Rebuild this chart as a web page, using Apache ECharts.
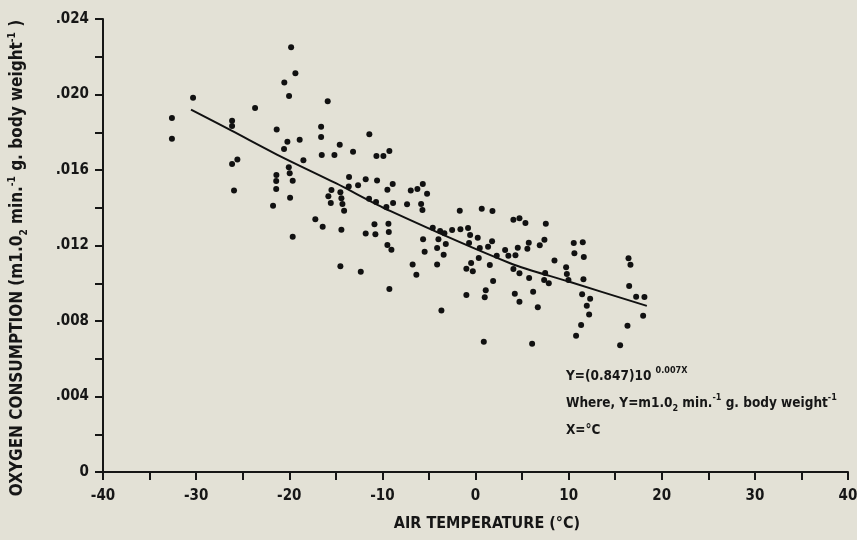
<!DOCTYPE html>
<html>
<head>
<meta charset="utf-8">
<script src="https://cdn.jsdelivr.net/npm/echarts@6/dist/echarts.min.js"></script>
<style>
html,body{margin:0;padding:0;background:#e3e1d6;}
#chart{width:857px;height:540px;}
</style>
</head>
<body>
<div id="chart"></div>
<script>
// Observed points: air temperature (°C)
var tempC = [
-32.6,-32.6,-30.33,-26.14,-26.14,-25.57,-26.14,-25.93,-23.67,-21.56,
-21.35,-21.38,-21.4,-21.4,-21.74,-19.8,-19.34,-20.53,-20.02,-15.87,
-16.58,-16.58,-20.2,-18.88,-20.56,-11.4,-14.58,-13.15,-16.51,-15.15,
-10.64,-9.89,-9.25,-18.48,-20.05,-19.95,-19.63,-19.91,-13.58,-11.79,
-10.57,-8.89,-13.61,-12.61,-15.47,-15.8,-15.54,-14.51,-14.4,-14.29,
-14.11,-9.46,-11.43,-10.68,-9.57,-8.85,-17.2,-16.41,-14.4,-19.63,
-10.85,-11.79,-10.75,-9.35,-9.31,-9.46,-9.03,-14.51,-12.32,-9.25,
-6.95,-6.24,-5.66,-5.2,-7.35,-5.84,-5.7,-1.69,0.67,1.82,
4.07,4.72,-4.59,-3.8,-3.34,-2.51,-1.62,-0.8,-0.58,0.24,
1.78,-5.63,-3.98,-3.19,-0.69,1.35,0.46,-4.12,-5.46,-3.42,
2.28,3.18,3.53,4.29,4.54,0.35,-0.47,-0.98,-0.29,1.54,
4.07,4.72,-6.75,-4.12,-6.35,1.89,1.1,0.99,-0.98,4.22,
4.72,-3.66,0.89,5.36,7.55,5.72,5.57,6.9,7.4,10.55,
11.52,10.62,11.63,8.48,9.73,9.81,9.98,11.59,5.76,7.48,
7.37,7.87,6.19,6.69,11.45,12.31,11.95,12.2,11.34,10.8,
6.08,16.43,16.64,16.5,17.25,18.14,18.0,16.32,15.53
];
// Observed points: oxygen consumption
var o2Consumption = [
0.01875,0.01766,0.01983,0.01861,0.01833,0.01655,0.01632,0.01492,0.01928,0.02414,
0.01814,0.01574,0.01542,0.01499,0.01411,0.0225,0.02112,0.02063,0.01992,0.01964,
0.01829,0.01775,0.0175,0.0176,0.01711,0.01789,0.01734,0.01697,0.0168,0.0168,
0.01674,0.01674,0.01701,0.01651,0.01614,0.01583,0.01543,0.01453,0.01563,0.01551,
0.01545,0.01526,0.01512,0.01519,0.01494,0.01461,0.01425,0.01482,0.0145,0.0142,
0.01384,0.01496,0.01448,0.0143,0.01404,0.01425,0.01339,0.013,0.01284,0.01247,
0.01312,0.01263,0.01259,0.01315,0.01272,0.01203,0.01178,0.0109,0.01061,0.0097,
0.01492,0.01499,0.01526,0.01474,0.01418,0.0142,0.01388,0.01384,0.01395,0.01383,
0.01337,0.01344,0.01294,0.01277,0.01265,0.01282,0.01286,0.01293,0.01256,0.01241,
0.01222,0.01233,0.01233,0.01208,0.01213,0.01194,0.01187,0.01187,0.01167,0.01151,
0.01146,0.01176,0.01146,0.01148,0.01188,0.01134,0.01107,0.01077,0.01063,0.01097,
0.01075,0.01053,0.011,0.011,0.01045,0.01012,0.00963,0.00926,0.00938,0.00945,
0.00902,0.00855,0.0069,0.01319,0.01315,0.01215,0.01183,0.01201,0.01231,0.01213,
0.01217,0.01159,0.01139,0.0112,0.01085,0.01049,0.01017,0.01021,0.01028,0.01054,
0.01017,0.01,0.00955,0.00873,0.00942,0.00918,0.00881,0.00834,0.00779,0.00722,
0.0068,0.01132,0.01098,0.00985,0.00929,0.00927,0.00828,0.00775,0.00671
];
// Fitted curve
var curveTemp = [-30.55,-26.14,-21.0,-15.0,-9.17,3.72,10.0,18.4];
var curveO2   = [0.0192,0.01807,0.01674,0.0153,0.01383,0.01106,0.01009,0.0088];
// Axis ticks
var xMin = -40, xMax = 40, xStep = 10;
var yMin = 0, yMax = 0.024, yStep = 0.004;

var scatterData = tempC.map(function(t,i){return [t,o2Consumption[i]];});
var curveData = curveTemp.map(function(t,i){return [t,curveO2[i]];});

var FONT = "'Liberation Sans Narrow','DejaVu Sans Condensed',sans-serif";
var INK = '#161616';

var chart = echarts.init(document.getElementById('chart'));
chart.setOption({
  backgroundColor: '#e3e1d6',
  animation: false,
  grid: {left: 103, right: 9, top: 19, bottom: 68, containLabel: false, outerBoundsMode: 'none'},
  xAxis: {
    type: 'value', min: xMin, max: xMax, interval: xStep,
    axisLine: {show: true, onZero: false, lineStyle: {color: INK, width: 2}},
    axisTick: {show: true, inside: false, length: 8, lineStyle: {color: INK, width: 2}},
    minorTick: {show: true, splitNumber: 2, length: 8, lineStyle: {color: INK, width: 2}},
    axisLabel: {fontFamily: FONT, fontSize: 15, fontWeight: 'bold', color: INK, margin: 17},
    splitLine: {show: false}
  },
  yAxis: {
    type: 'value', min: yMin, max: yMax, interval: yStep,
    axisLine: {show: true, onZero: false, lineStyle: {color: INK, width: 2}},
    axisTick: {show: true, inside: false, length: 8, lineStyle: {color: INK, width: 2}},
    minorTick: {show: true, splitNumber: 2, length: 8, lineStyle: {color: INK, width: 2}},
    axisLabel: {
      fontFamily: FONT, fontSize: 15, fontWeight: 'bold', color: INK, margin: 14,
      formatter: function(v){ return v === 0 ? '0' : v.toFixed(3).replace(/^0/, ''); }
    },
    splitLine: {show: false}
  },
  graphic: [
    {type: 'text', x: 18, y: 258, rotation: Math.PI / 2, style: {
      text: '{t|OXYGEN CONSUMPTION (m1.0}{sub|2}{t| min.}{sup|-1}{t| g. body weight}{sup|-1}{t| )}',
      align: 'center', verticalAlign: 'middle',
      rich: {
        t: {fontFamily: FONT, fontSize: 17, fontWeight: 'bold', fill: INK, lineHeight: 22},
        sub: {fontFamily: FONT, fontSize: 10, fontWeight: 'bold', fill: INK, verticalAlign: 'bottom', lineHeight: 22},
        sup: {fontFamily: FONT, fontSize: 10, fontWeight: 'bold', fill: INK, verticalAlign: 'top', lineHeight: 22}
      }}},
    {type: 'text', x: 487, y: 524, style: {
      text: 'AIR TEMPERATURE (°C)', align: 'center', verticalAlign: 'middle',
      fontFamily: FONT, fontSize: 16, fontWeight: 'bold', fill: INK}},
    {type: 'text', left: 566, top: 366, style: {
      text: '{t|Y=(0.847)10 }{sup|0.007X}',
      rich: {
        t: {fontFamily: FONT, fontSize: 13.5, fontWeight: 'bold', fill: INK, lineHeight: 20},
        sup: {fontFamily: FONT, fontSize: 9, fontWeight: 'bold', fill: INK, verticalAlign: 'top', lineHeight: 20}
      }}},
    {type: 'text', left: 566, top: 393, style: {
      text: '{t|Where, Y=m1.0}{sub|2}{t| min.}{sup|-1}{t| g. body weight}{sup|-1}',
      rich: {
        t: {fontFamily: FONT, fontSize: 13.5, fontWeight: 'bold', fill: INK, lineHeight: 20},
        sub: {fontFamily: FONT, fontSize: 9, fontWeight: 'bold', fill: INK, verticalAlign: 'bottom', lineHeight: 20},
        sup: {fontFamily: FONT, fontSize: 9, fontWeight: 'bold', fill: INK, verticalAlign: 'top', lineHeight: 20}
      }}},
    {type: 'text', left: 566, top: 423, style: {
      text: 'X=°C', fontFamily: FONT, fontSize: 13.5, fontWeight: 'bold', fill: INK}}
  ],
  series: [
    {
      type: 'scatter', data: scatterData, symbol: 'circle', symbolSize: 6,
      itemStyle: {color: '#111', opacity: 1}, z: 3
    },
    {
      type: 'line', data: curveData, smooth: 0.3, showSymbol: false,
      lineStyle: {color: '#111', width: 2}, z: 2
    }
  ]
});
</script>
</body>
</html>
